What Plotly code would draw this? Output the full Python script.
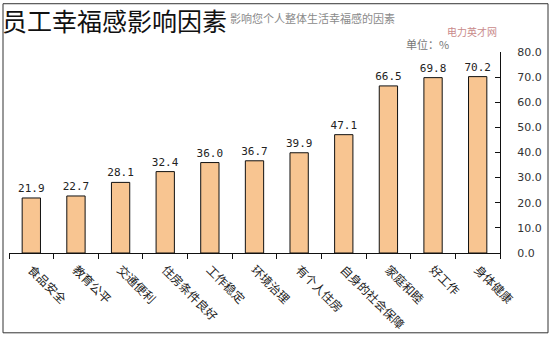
import plotly.graph_objects as go

categories = ["食品安全", "教育公平", "交通便利", "住房条件良好", "工作稳定", "环境治理",
              "有个人住房", "自身的社会保障", "家庭和睦", "好工作", "身体健康"]
values = [21.9, 22.7, 28.1, 32.4, 36.0, 36.7, 39.9, 47.1, 66.5, 69.8, 70.2]
y_ticks = [0, 10, 20, 30, 40, 50, 60, 70, 80]
y_tick_labels = ["0.0", "10.0", "20.0", "30.0", "40.0", "50.0", "60.0", "70.0", "80.0"]

title_text = "员工幸福感影响因素"
subtitle_text = "影响您个人整体生活幸福感的因素"
unit_text = "单位：%"
watermark_text = "电力英才网"

fig = go.Figure()
fig.add_trace(go.Bar(
    x=categories, y=values,
    marker=dict(color="#F8C591", line=dict(color="#111111", width=1)),
    width=0.41,
    text=[f"{v:.1f}" for v in values],
    textposition="outside",
    constraintext="none",
    textfont=dict(family="DejaVu Sans Mono", size=11, color="#222222"),
    cliponaxis=False,
    showlegend=False,
))

fig.update_layout(
    width=553, height=341,
    margin=dict(l=9, r=53, t=52, b=85),
    paper_bgcolor="white", plot_bgcolor="white",
    bargap=0.59,
    xaxis=dict(
        type="category", range=[-0.5, 10.5],
        showline=True, linecolor="#111111", linewidth=1,
        ticks="outside", tickson="boundaries", ticklen=5, tickcolor="#111111",
        tickangle=45,
        tickfont=dict(family="Noto Sans CJK SC", size=12, color="#222222"),
        ticklabelstandoff=4,
        showgrid=False, zeroline=False,
    ),
    yaxis=dict(
        side="right", range=[0, 80],
        tickvals=y_ticks, ticktext=y_tick_labels,
        showline=True, linecolor="#111111", linewidth=1,
        ticks="inside", ticklen=5, tickcolor="#111111",
        ticklabelstandoff=14,
        tickfont=dict(family="DejaVu Sans", size=11, color="#333333"),
        showgrid=False, zeroline=False,
    ),
    shapes=[
        dict(type="rect", xref="paper", yref="paper",
             x0=-6/491, x1=(548-9)/491, y0=-(337-256)/204, y1=(256-3)/204,
             line=dict(color="#333333", width=1), fillcolor="rgba(0,0,0,0)", layer="below"),
    ],
    annotations=[
        dict(text=subtitle_text, xref="paper", yref="paper",
             x=(228-9)/491, y=(256-18)/204, xanchor="left", yanchor="middle",
             showarrow=False, font=dict(family="Noto Sans CJK SC", size=11, color="#8a8a8a")),
        dict(text=title_text, xref="paper", yref="paper",
             x=(0-9)/491, y=(256-20)/204, xanchor="left", yanchor="middle",
             showarrow=False, font=dict(family="Noto Sans CJK SC", size=25, color="#111111")),
        dict(text=unit_text, xref="paper", yref="paper",
             x=(404-9)/491, y=(256-44)/204, xanchor="left", yanchor="middle",
             showarrow=False, font=dict(family="Noto Sans CJK SC", size=11, color="#777777")),
        dict(text=watermark_text, xref="paper", yref="paper",
             x=(445-9)/491, y=(256-31)/204, xanchor="left", yanchor="middle",
             showarrow=False, font=dict(family="Noto Sans CJK SC", size=10, color="#c98a8a")),
    ],
)

fig.write_html("out.html")
